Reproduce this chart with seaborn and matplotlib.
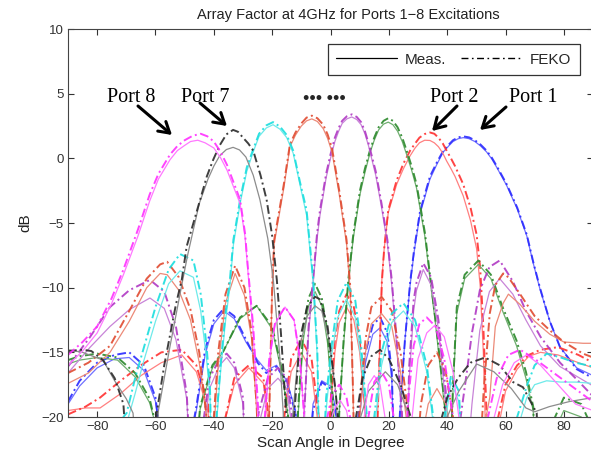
import matplotlib
matplotlib.use("Agg")
import matplotlib.pyplot as plt
import seaborn as sns
from matplotlib.lines import Line2D

# ---------------- data (angle in degree, level in dB) ----------------
p1_ang = [-90, -86, -80, -74, -69, -64, -60, -56, -53, -46, -43, -40, -36.5, -33, -29, -25, -22, -18.5, -15, -12, -9, -6, -3, 0, 3, 6, 9, 12, 14.5, 17, 19.5, 21, 22.5, 23.8, 25.5, 27.3, 28.7, 30.7, 34.1, 36.5, 38.7, 40.5, 42, 43.8, 45.5, 47.5, 49.5, 51.5, 53.5, 55.3, 57, 60.4, 64, 67.3, 69.5, 71.8, 75.2, 78.7, 84.4, 90]
p1_feko = [-18.8, -17.2, -15.8, -15.2, -15.0, -16.0, -18.5, -26, -28, -19.2, -14.8, -12.5, -11.6, -12.2, -14.0, -15.8, -16.6, -16.1, -17.3, -19.7, -28, -19.5, -17.3, -17.8, -21, -28, -21, -15, -12.9, -12.3, -13.5, -16.5, -28, -19.7, -14.1, -9.6, -7.0, -4.1, -1.4, -0.3, 0.6, 1.05, 1.4, 1.62, 1.7, 1.62, 1.4, 1.05, 0.6, 0.05, -0.6, -2.0, -3.8, -5.9, -8.0, -10.0, -12.6, -14.6, -16.3, -17.0]
p1_meas = [-19.0, -17.6, -16.2, -15.5, -15.4, -16.4, -18.8, -26, -28, -19.5, -15.2, -12.8, -11.8, -12.4, -14.2, -15.6, -16.4, -16.0, -17.2, -19.5, -28, -19.0, -17.2, -17.6, -20.5, -28, -22, -15.8, -13.6, -13.1, -14.2, -17.0, -28, -19.7, -14.1, -9.8, -7.2, -4.3, -1.6, -0.45, 0.5, 0.95, 1.3, 1.52, 1.6, 1.52, 1.3, 0.95, 0.5, -0.05, -0.7, -2.1, -3.9, -6.0, -8.1, -10.1, -12.6, -14.6, -16.2, -16.8]

p2_ang = [-90, -84, -79, -72, -65, -58, -51, -46, -42, -39.5, -37, -33, -28, -23, -20.5, -18.5, -16, -13.5, -10, -6.5, -4, -2, 0, 1.5, 3, 5.5, 8, 10, 12, 13.5, 15, 16.2, 17, 17.6, 18.4, 19.8, 22.7, 25, 27.3, 29, 30.5, 32.3, 34.1, 35.6, 37, 38.5, 39.8, 41.3, 42.7, 45.5, 48, 50.1, 51.3, 52.4, 53.5, 54.3, 56.5, 60, 64, 68, 72, 78, 85, 90]
p2_feko = [-19.8, -19.2, -18.5, -17.2, -16.0, -15.0, -14.8, -16.0, -19.0, -28, -21, -17.0, -16.0, -17.0, -21, -28, -20, -15.5, -14.0, -15.5, -20, -28, -19, -14, -11.8, -10.5, -11.5, -14, -19.5, -28, -28, -19.7, -14, -9.6, -7.0, -4.0, -1.7, -0.4, 0.6, 1.15, 1.6, 1.88, 2.0, 1.9, 1.6, 1.15, 0.6, 0.0, -0.6, -2.0, -3.8, -5.9, -8.4, -13, -19.7, -28, -21, -17.5, -16.0, -15.2, -14.8, -14.6, -15.2, -15.8]
p2_meas = [-19.5, -19.3, -19.3, -18.2, -16.8, -15.8, -15.2, -16.5, -19.5, -28, -21, -17.5, -16.2, -17.4, -22, -28, -20.5, -16.5, -15.0, -16.5, -21, -28, -20, -15, -12.7, -11.5, -12.5, -15, -20, -28, -28, -19.5, -13.5, -9.4, -7.0, -4.2, -2.0, -0.8, 0.2, 0.8, 1.2, 1.4, 1.38, 1.2, 0.9, 0.4, -0.2, -0.8, -1.4, -2.9, -4.8, -7.0, -9.8, -15, -24, -28, -22, -18, -16.3, -15.3, -15.0, -15.2, -15.8, -16.2]

p3_ang = [-90, -86, -80, -73, -67, -62, -59.5, -56, -48, -44.7, -40.5, -36.7, -31, -25.3, -20, -16.5, -14.5, -13, -11, -9.3, -7.5, -5.3, -3, -1, 0.8, 2, 3, 4.5, 6.1, 7.8, 10.1, 11.8, 13.5, 15, 16.5, 18.2, 19.8, 21.4, 23, 24.6, 26.1, 27.8, 29.5, 32.4, 34.1, 36, 38, 39.5, 40.5, 42, 43.3, 46, 50.7, 55, 59, 63.8, 67, 69.5, 71, 75, 80, 86, 90]
p3_feko = [-15.6, -15.3, -15.1, -15.4, -16.6, -18.6, -21, -28, -28, -19.2, -16.0, -14.9, -12.3, -11.4, -13.0, -16.5, -20, -28, -19, -13, -10.8, -9.7, -10.8, -13.5, -18.5, -28, -19.7, -14, -9.4, -5.9, -2.5, -0.8, 0.6, 1.6, 2.4, 2.9, 3.1, 2.9, 2.4, 1.6, 0.6, -0.6, -2.0, -5.8, -9.0, -12.5, -16.5, -19.7, -28, -17.5, -11.5, -9.0, -7.9, -9.0, -11.5, -14.1, -16.5, -19.2, -28, -21, -18.5, -19, -21]
p3_meas = [-15.9, -15.6, -15.4, -15.6, -16.9, -18.9, -21, -28, -28, -19.4, -16.2, -14.9, -12.4, -11.4, -13.2, -16.8, -20, -28, -19.5, -14, -11.4, -10.3, -11.4, -14.3, -19, -28, -19.7, -14.4, -9.7, -6.2, -2.8, -1.1, 0.4, 1.4, 2.2, 2.65, 2.8, 2.6, 2.1, 1.3, 0.3, -0.9, -2.3, -6.1, -9.3, -12.8, -17, -20, -28, -18, -12, -9.3, -8.2, -9.3, -11.8, -14.5, -17, -19.5, -28, -22, -19.5, -20, -22]

p4_ang = [-90, -82.4, -75.6, -69, -61.9, -57, -53, -49.3, -47, -44, -41.5, -38, -35.6, -33, -30, -28.5, -25, -21.5, -18, -15, -12.5, -11, -10, -9, -7.5, -6, -4.6, -3.6, -1.5, 0, 1.5, 2.8, 4, 5.6, 7.3, 9, 10.5, 11.8, 13, 15.5, 17.5, 19.5, 21, 22.5, 24.5, 25.5, 27, 28.5, 29.5, 31.8, 34.5, 37, 39.5, 41, 44, 46.7, 48.5, 51.2, 54.5, 58, 62.5, 67, 72, 78.7, 84, 90]
p4_feko = [-16.1, -13.8, -11.5, -10.2, -9.4, -10.3, -13.0, -18.2, -28, -21, -17, -15.5, -15.1, -15.8, -18.5, -28, -20, -17, -16.2, -17, -21, -28, -28, -19.7, -13, -9.4, -5.8, -4.0, -1.2, 0.3, 1.6, 2.35, 2.9, 3.25, 3.4, 3.2, 2.8, 2.1, 1.2, -1.0, -3.5, -6.3, -9.4, -13.5, -19.7, -28, -16, -11, -9.6, -8.1, -9.2, -12.5, -18, -28, -21, -16.6, -13.5, -10.2, -8.4, -7.9, -9.5, -11.8, -13.8, -15.8, -17, -18.4]
p4_meas = [-16.6, -14.6, -13.0, -11.7, -10.8, -11.6, -14.0, -18.6, -28, -22, -17.8, -16, -15.4, -16.2, -19, -28, -21, -17.8, -17, -17.8, -22, -28, -28, -19.7, -13.4, -9.8, -6.2, -4.4, -1.5, 0.0, 1.3, 2.1, 2.7, 3.05, 3.2, 3.0, 2.6, 1.9, 1.0, -1.3, -3.8, -6.6, -9.8, -14, -20, -28, -17, -11.8, -10.2, -8.6, -9.8, -13.2, -19, -28, -28, -24, -19, -13.3, -10.3, -9.3, -10.5, -12.5, -14.5, -16.1, -16.8, -17.6]

p5_ang = [-90, -83, -75.6, -69, -63, -58.4, -56, -52, -48, -45, -42.5, -41.5, -40, -38.5, -36, -32.7, -29.5, -27, -25.3, -24, -22.5, -21, -20, -19.3, -16, -13.9, -12, -10, -8.2, -6.4, -4.5, -2.5, -1, 0.5, 3, 5.5, 6.8, 7.8, 8.5, 10, 12, 14, 17.5, 21, 24, 26.5, 28, 31, 33.5, 36.5, 39.5, 42, 44, 50, 52.5, 54.6, 56.5, 59.2, 61, 65, 70, 75.2, 80, 86.6, 90]
p5_feko = [-16.6, -15.8, -14.5, -11.8, -9.3, -8.2, -8.0, -9.2, -11.7, -15, -20, -28, -20, -15, -10.5, -8.3, -10, -13.5, -19.2, -28, -28, -19.7, -9.9, -6.3, -2.0, 1.1, 2.0, 2.7, 3.15, 3.3, 3.1, 2.6, 1.85, 0.8, -2.5, -6.3, -10, -18.7, -28, -19, -14, -11.5, -10.7, -11.8, -15, -19.5, -28, -19, -16, -15, -16.5, -20, -28, -28, -18, -12, -9.8, -8.9, -9.2, -10.5, -12.2, -13.3, -14.2, -15.1, -15.4]
p5_meas = [-17.4, -16.6, -15.0, -12.6, -10.0, -8.9, -9.0, -10.2, -12.5, -15.8, -20, -28, -21, -16, -11.2, -8.9, -10.6, -14, -19.5, -28, -28, -19.7, -10.3, -6.6, -2.3, 0.9, 1.8, 2.5, 2.9, 3.05, 2.85, 2.3, 1.55, 0.5, -2.8, -6.6, -10.4, -19, -28, -20, -15, -12.8, -12, -13, -16.5, -21, -28, -22, -19, -17.8, -19, -22, -28, -28, -21, -18.5, -13, -11.2, -10.5, -11.3, -12.6, -13.6, -14.2, -14.3, -14.3]

p6_ang = [-90, -74, -71, -69.9, -67, -64.2, -60, -55.5, -51.6, -47, -44.5, -42.5, -41.3, -40.3, -39.5, -39, -37.5, -36, -34.5, -33.3, -31, -28.7, -26.5, -24.5, -22, -19.7, -17.3, -15, -12.8, -10.5, -8.2, -5.9, -4.5, -3.5, -1.5, 0.2, 2.5, 5.5, 8.5, 10.5, 12.5, 13.5, 15, 17.5, 21, 25, 29, 33, 35.5, 37, 39, 41.3, 44, 46.5, 62, 64, 67.3, 70, 74.1, 79, 84, 90]
p6_feko = [-28, -28, -20, -19.7, -17, -14.8, -11.5, -8.6, -7.4, -7.9, -10.5, -14.5, -17.9, -28, -28, -19.7, -15.5, -12, -9.4, -6.3, -3.2, -0.7, 0.7, 1.9, 2.55, 2.8, 2.45, 1.8, 0.6, -1.8, -4.0, -9.4, -15, -28, -18.5, -14.8, -11, -9.6, -11, -14.5, -20, -28, -20, -15, -12, -11.2, -12.5, -16, -20.5, -28, -20, -16.8, -18, -28, -28, -20, -17.6, -16, -15.1, -15.4, -15.8, -16.1]
p6_meas = [-28, -28, -21, -20.5, -18.2, -15.8, -12.6, -9.7, -8.7, -9.2, -11.8, -15.5, -18.5, -28, -28, -20.2, -16, -12.6, -9.9, -6.7, -3.5, -1.0, 0.5, 1.7, 2.35, 2.6, 2.25, 1.6, 0.4, -2.0, -4.4, -9.8, -15.5, -28, -19.5, -15.5, -12.3, -10.9, -12.3, -15.5, -20.5, -28, -21, -16, -12.7, -11.8, -13, -16.5, -21, -28, -21, -17.3, -18.8, -28, -28, -21, -18.5, -17.5, -17.2, -17.3, -17.3, -17.4]

p7_ang_feko = [-90, -85, -82, -78, -74, -71, -68.5, -61, -59.6, -57, -53, -51, -49.3, -47, -44.7, -42.4, -40.2, -38, -35.7, -33.4, -31.7, -30, -28.2, -26.5, -24, -21.9, -20, -18.4, -17, -15.2, -14.5, -12.5, -10.5, -8, -5.3, -3.6, -1, 1.5, 3, 4, 6, 8, 11, 14, 17, 20, 24, 27.5, 29, 33, 37, 40, 43.7, 48, 53, 58, 62.6, 66, 70.7, 72, 90]
p7_feko = [-14.9, -14.8, -14.9, -15.6, -17, -19, -28, -28, -19.7, -16, -11.3, -9.4, -6.8, -5.0, -3.2, -1.4, -0.1, 1.0, 1.85, 2.2, 2.05, 1.6, 1.15, 0.6, -1.3, -3.2, -6.0, -9.4, -13.5, -19.7, -28, -20, -14, -11.5, -10.7, -10.9, -13, -17.5, -21, -28, -28, -21, -17, -15.3, -14.8, -15.5, -17.5, -20, -28, -28, -21, -18.5, -17, -15.8, -15.4, -16, -17.3, -17.7, -19.7, -28, -28]
p7_ang_meas = [-90, -85, -78, -74, -70, -67.7, -65, -61, -59, -55, -51, -49, -45, -42, -40, -38, -35.7, -33.4, -31.2, -29, -26.5, -24.2, -21.5, -19.6, -17.5, -16.2, -15.5, -13, -11, -8, -5.3, -3, -0.5, 2, 3.5, 6, 9, 13, 18.8, 23, 27, 29, 34, 38, 44, 50.1, 56, 62, 67, 70, 75, 82, 90]
p7_meas = [-14.8, -15.0, -15.6, -17.2, -18.6, -19.7, -28, -28, -19.5, -14.5, -9.8, -7.5, -3.5, -1.6, -0.6, 0.2, 0.68, 0.85, 0.65, 0.1, -1.3, -3.2, -6.2, -9.4, -15, -19.7, -28, -20, -15, -12.2, -11.4, -11.8, -14, -18.5, -28, -28, -21, -18, -16.5, -17.5, -20, -28, -28, -21, -18, -15.9, -16.5, -17.8, -19.3, -19.6, -19.2, -18.8, -18.5]

p8_ang_feko = [-90, -85, -80, -75, -71, -66, -62, -59, -55, -52.5, -50, -47.2, -44.5, -42.2, -40, -37.7, -35.5, -31, -29.3, -28.3, -26.5, -24.7, -24, -22.5, -21, -19, -15.6, -12.5, -10.5, -9, -8, -4, -2, 0.5, 3, 5.5, 7.5, 8.5, 11, 13, 15, 17.5, 20, 22, 23.5, 25, 26.5, 28.5, 30.5, 33, 36, 39, 42, 43.5, 50, 53, 57, 61, 65, 70, 76, 82, 88.6, 90]
p8_feko = [-15.2, -14.2, -13, -10.8, -8.6, -5.5, -2.8, -1.2, 0.3, 0.95, 1.4, 1.75, 1.9, 1.7, 1.3, 0.5, -0.5, -3.2, -5.8, -8.5, -13, -19.7, -28, -20, -15.5, -12.7, -11.5, -12.5, -15.5, -20, -28, -28, -21, -18.3, -17.5, -18.5, -21, -28, -28, -20, -17.3, -16.5, -17.5, -20.5, -28, -28, -19, -14.5, -12.8, -12.3, -13, -15.5, -20, -28, -28, -21, -17, -15.2, -14.8, -15.5, -16.5, -17.5, -18.6, -18.8]
p8_ang_meas = [-90, -85, -80, -75, -71, -66, -62, -59, -55, -52.5, -50, -48, -45.5, -43, -40, -37.7, -35.5, -31, -29.3, -28.3, -26.5, -25, -24.3, -22.5, -21, -19, -15.6, -12.5, -10.5, -9, -8, -3, -1, 1.5, 3.3, 5.5, 7.5, 8.5, 9.5, 11, 13, 15, 17, 19, 26, 28, 30, 33, 35.8, 39, 42, 44, 45.5, 52, 55, 59, 63, 67.3, 72, 78, 84, 90]
p8_meas = [-16, -14.9, -13.5, -11.2, -9, -6, -3.3, -1.6, -0.1, 0.6, 1.0, 1.3, 1.4, 1.2, 0.8, 0.05, -0.9, -3.5, -6.1, -8.8, -13.5, -19.7, -28, -20, -15.7, -12.8, -11.5, -12.5, -15.5, -20, -28, -28, -21, -19.3, -18.7, -19.5, -22, -28, -28, -21, -17.5, -16.8, -17.5, -20.5, -28, -20, -15.5, -13.5, -12.9, -13.8, -16.5, -20, -28, -28, -21, -17.5, -15.8, -15.2, -16, -17.5, -19, -19.5]

x_ticks = [-80, -60, -40, -20, 0, 20, 40, 60, 80]
y_ticks = [-20, -15, -10, -5, 0, 5, 10]
port_labels = ["Port 8", "Port 7", "Port 2", "Port 1"]

# ---------------- styling ----------------
sns.set_style("ticks")
plt.rcParams['font.family'] = ['Liberation Sans', 'DejaVu Sans']

fig = plt.figure(figsize=(5.91, 4.54), dpi=100)
ax = fig.add_axes([68 / 591, 37 / 454, 525 / 591, 388 / 454])

curves = [
    (p1_ang, p1_meas, p1_ang, p1_feko, '#7070ff', '#2a2aff'),
    (p2_ang, p2_meas, p2_ang, p2_feko, '#ff8080', '#ff3030'),
    (p3_ang, p3_meas, p3_ang, p3_feko, '#6fae6f', '#2a882a'),
    (p4_ang, p4_meas, p4_ang, p4_feko, '#c884d8', '#b038c4'),
    (p5_ang, p5_meas, p5_ang, p5_feko, '#ec8a78', '#e04a30'),
    (p6_ang, p6_meas, p6_ang, p6_feko, '#6eeaea', '#18dede'),
    (p7_ang_meas, p7_meas, p7_ang_feko, p7_feko, '#8c8c8c', '#2a2a2a'),
    (p8_ang_meas, p8_meas, p8_ang_feko, p8_feko, '#ff78ff', '#ff30ff'),
]

dashdot = (0, (4.5, 1.8, 1.0, 1.8))
for am, m, af, f, cm, cf in curves:
    sns.lineplot(x=am, y=m, ax=ax, color=cm, linewidth=0.9, sort=False,
                 estimator=None, legend=False)
    sns.lineplot(x=af, y=f, ax=ax, color=cf, linewidth=1.4, linestyle=dashdot,
                 sort=False, estimator=None, legend=False, alpha=0.9)

ax.set_xlim(-90, 90)
ax.set_ylim(-20, 10)
ax.set_xticks(x_ticks)
ax.set_yticks(y_ticks)
ax.tick_params(direction='in', top=True, right=True, length=4, width=0.8,
               labelsize=9.5, colors='#333333', pad=3)
for s in ax.spines.values():
    s.set_color('#444444')
    s.set_linewidth(0.8)
    s.set_visible(True)

ax.set_xlabel("Scan Angle in Degree", fontsize=11, color='#222222', labelpad=2)
ax.set_ylabel("dB", fontsize=11, color='#222222', labelpad=6)
fig.text(348 / 591, 1 - 14.5 / 454, "Array Factor at 4GHz for Ports 1\u22128 Excitations",
         ha='center', va='center', fontsize=10.5, color='#222222')

handles = [Line2D([], [], color='k', lw=0.9),
           Line2D([], [], color='k', lw=1.0, linestyle=(0, (5, 2.5, 1.2, 2.5)))]
leg = ax.legend(handles, ['Meas.', 'FEKO'], ncol=2, loc='upper right',
                bbox_to_anchor=(0.975, 0.961), borderaxespad=0, frameon=True,
                fancybox=False, edgecolor='k', handlelength=4.0, columnspacing=1.0,
                handletextpad=0.5, fontsize=11, borderpad=0.55)
leg.get_frame().set_linewidth(0.9)

# port annotations (figure fraction positions)
def fp(x, y):
    return (x / 591, 1 - y / 454)

label_pos = [(131.5, 98), (205, 98), (454, 98), (533.5, 98)]
arrows = [((138, 106), (172, 135)), ((200, 103), (227, 126)),
          ((457, 106), (432, 131)), ((506, 107), (480, 130))]
for lab, (tx, ty) in zip(port_labels, label_pos):
    fig.text(*fp(tx, ty), lab, ha='center', va='center', fontsize=14.5,
             family=['Liberation Serif', 'DejaVu Serif'], color='k')
for tail, head in arrows:
    ax.annotate('', xy=fp(*head), xytext=fp(*tail), xycoords='figure fraction',
                textcoords='figure fraction',
                arrowprops=dict(arrowstyle='->,head_length=0.75,head_width=0.45',
                                lw=2.2, color='k', shrinkA=0, shrinkB=0))
fig.text(*fp(324, 100), "\u2022\u2022\u2022 \u2022\u2022\u2022", ha='center', va='center',
         fontsize=13, fontweight='bold', family=['Liberation Serif', 'DejaVu Serif'])

fig.savefig("out.png", dpi=100)
